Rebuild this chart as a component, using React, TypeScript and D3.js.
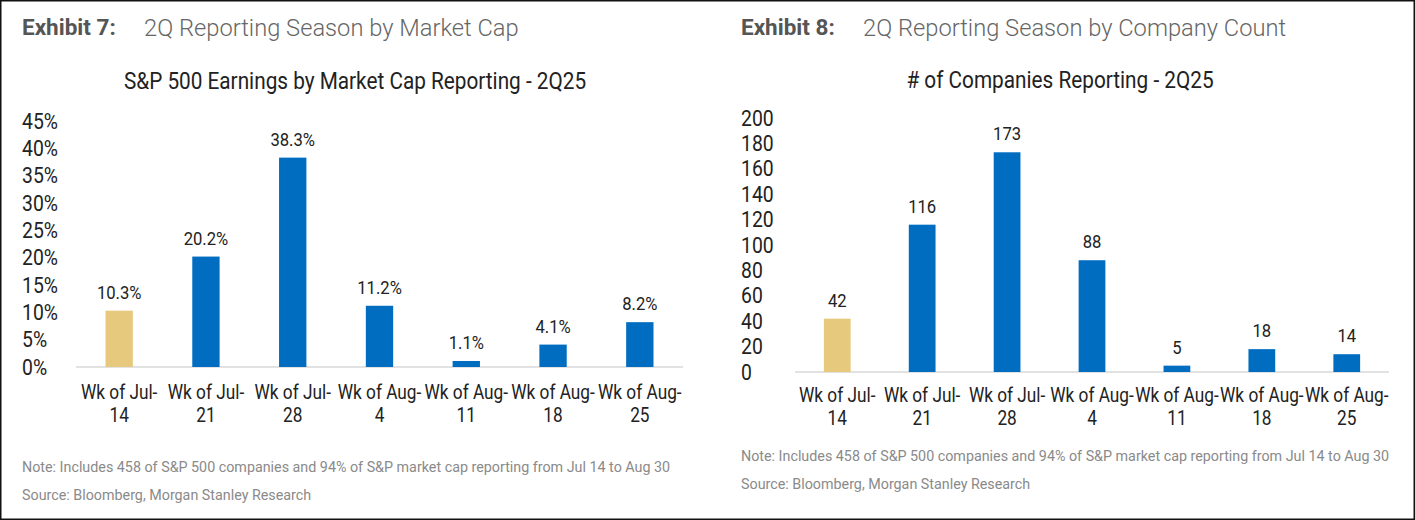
import * as d3 from 'd3';

const weeks = ['Wk of Jul-14', 'Wk of Jul-21', 'Wk of Jul-28', 'Wk of Aug-4', 'Wk of Aug-11', 'Wk of Aug-18', 'Wk of Aug-25'];
const capShare = [10.3, 20.2, 38.3, 11.2, 1.1, 4.1, 8.2];
const companyCount = [42, 116, 173, 88, 5, 18, 14];
const capTicks = [0, 5, 10, 15, 20, 25, 30, 35, 40, 45];
const countTicks = [0, 20, 40, 60, 80, 100, 120, 140, 160, 180, 200];

const BLUE = '#006dc1';
const GOLD = '#e7c97d';
const FONT = 'Roboto, "Noto Sans", sans-serif';
const COND = 0.88;

function CondText({ x, y, size, anchor = 'middle', fill = '#222', children }: any) {
  return (
    <text
      transform={`translate(${x},${y}) scale(${COND},1)`}
      textAnchor={anchor}
      fontSize={size}
      fill={fill}
      fontFamily={FONT}
    >
      {children}
    </text>
  );
}

interface PanelProps {
  exhibit: string;
  subtitle: string;
  title: string;
  values: number[];
  ticks: number[];
  fmtTick: (v: number) => string;
  fmtValue: (v: number) => string;
  left: number; // panel origin x
  xRange: [number, number];
  yRange: [number, number];
  yMax: number;
  titleX: number;
  titleY: number;
  xLabelY: number;
  noteY: number;
}

function Panel(p: PanelProps) {
  const x = d3.scaleBand<string>().domain(weeks).range(p.xRange).paddingInner(0.685).paddingOuter(0.34);
  const y = d3.scaleLinear().domain([0, p.yMax]).range(p.yRange);
  const base = y(0);

  return (
    <g>
      <text x={p.left} y={35} fontFamily={FONT} fontSize={22.5} fontWeight={700} fill="#555">
        {p.exhibit}
      </text>
      <text x={p.left + 122} y={36} fontFamily={FONT} fontSize={23.7} fontWeight={300} fill="#666">
        {p.subtitle}
      </text>

      <CondText x={p.titleX} y={p.titleY} size={23.6}>
        {p.title}
      </CondText>

      {p.ticks.map((t) => (
        <CondText key={t} x={p.left} y={y(t) + 7.5} size={22} anchor="start">
          {p.fmtTick(t)}
        </CondText>
      ))}

      <line x1={p.xRange[0]} x2={p.xRange[1]} y1={base} y2={base} stroke="#d9d9d9" strokeWidth={1.5} />

      {p.values.map((v, i) => {
        const bx = x(weeks[i])!;
        const cx = bx + x.bandwidth() / 2;
        return (
          <g key={weeks[i]}>
            <rect x={bx} y={y(v)} width={x.bandwidth()} height={base - y(v)} fill={i === 0 ? GOLD : BLUE} />
            <CondText x={cx} y={y(v) - 12} size={18.9}>
              {p.fmtValue(v)}
            </CondText>
          </g>
        );
      })}

      {weeks.map((w) => {
        const cx = x(w)! + x.bandwidth() / 2;
        const [a, b] = w.split('-');
        return (
          <g key={w}>
            <CondText x={cx} y={p.xLabelY} size={19.6}>
              {a + '-'}
            </CondText>
            <CondText x={cx} y={p.xLabelY + 23} size={19.6}>
              {b}
            </CondText>
          </g>
        );
      })}

      <text x={p.left} y={p.noteY} fontFamily={FONT} fontSize={14.3} fill="#8a8a8a">
        Note: Includes 458 of S&amp;P 500 companies and 94% of S&amp;P market cap reporting from Jul 14 to Aug 30
      </text>
      <text x={p.left} y={p.noteY + 28} fontFamily={FONT} fontSize={14.3} fill="#8a8a8a">
        Source: Bloomberg, Morgan Stanley Research
      </text>
    </g>
  );
}

export default function App() {
  return (
    <svg
      width={1415}
      height={520}
      style={{ position: 'absolute', left: 0, top: 0, background: '#fff' }}
    >
      <rect x={0.75} y={0.75} width={1413.5} height={518.5} fill="#fff" stroke="#111" strokeWidth={1.5} />
      <Panel
        exhibit="Exhibit 7:"
        subtitle="2Q Reporting Season by Market Cap"
        title="S&P 500 Earnings by Market Cap Reporting - 2Q25"
        values={capShare}
        ticks={capTicks}
        fmtTick={(v) => `${v}%`}
        fmtValue={(v) => `${v.toFixed(1)}%`}
        left={22}
        xRange={[76, 683]}
        yRange={[367, 121]}
        yMax={45}
        titleX={355}
        titleY={89}
        xLabelY={399}
        noteY={472}
      />
      <Panel
        exhibit="Exhibit 8:"
        subtitle="2Q Reporting Season by Company Count"
        title="# of Companies Reporting - 2Q25"
        values={companyCount}
        ticks={countTicks}
        fmtTick={(v) => `${v}`}
        fmtValue={(v) => `${v}`}
        left={741}
        xRange={[795, 1389]}
        yRange={[372, 118]}
        yMax={200}
        titleX={1060}
        titleY={88}
        xLabelY={402}
        noteY={461}
      />
    </svg>
  );
}
